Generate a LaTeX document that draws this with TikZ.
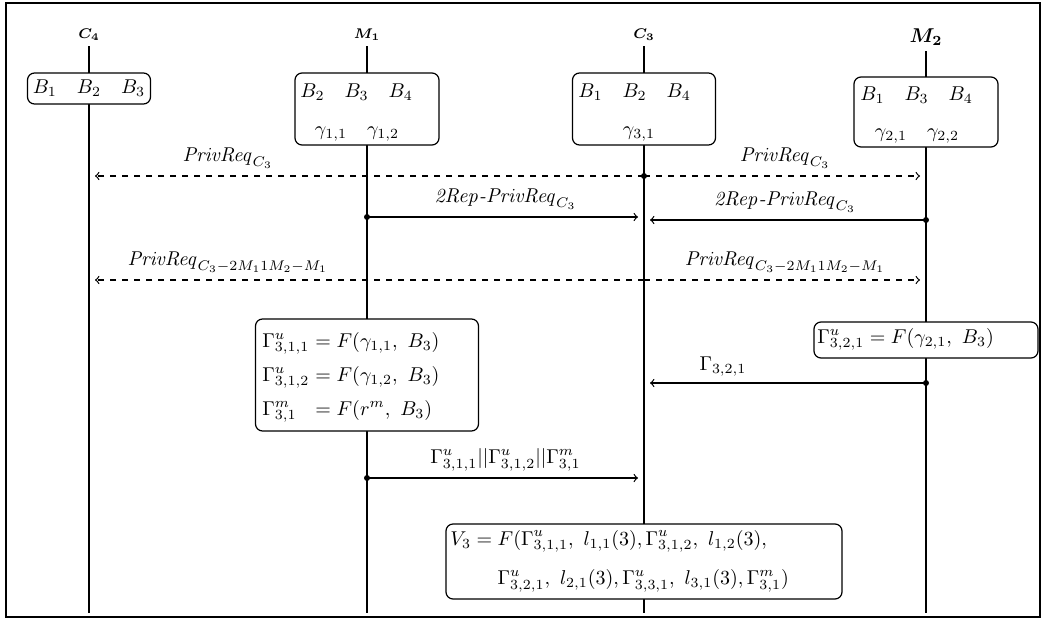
\documentclass[tikz,border=0pt]{standalone}
\usepackage{amsmath}
\usepackage{tikz}
\usetikzlibrary{positioning,calc}

\begin{document}
\begin{tikzpicture}[
    x=0.5pt, y=-0.5pt,
    >=to,
    head/.style={font=\scriptsize, inner sep=3pt, anchor=base},
    life/.style={semithick},
    box/.style={draw, semithick, rounded corners=3.5pt, fill=white, inner sep=0pt},
    txt/.style={inner sep=0pt},
    msg/.style={->, semithick, shorten >=3pt},
    dmsg/.style={msg, dashed},
    lbl/.style={above},
]
\useasboundingbox (0,0) rectangle (1045,622);
\draw[line width=1pt] (6,3) rectangle (1040,617);

% ---------- parties and lifelines ----------
\node[head] (c4) at (89,38)  {$\boldsymbol{C_4}$};
\node[head] (m1) at (367,38) {$\boldsymbol{M_1}$};
\node[head] (c3) at (644,38) {$\boldsymbol{C_3}$};
\node[head, font=\normalsize] (m2) at (926,42) {$\boldsymbol{M_2}$};

\coordinate (bot) at (0,613);
\foreach \p in {c4,m1,c3,m2}
  \draw[life] (\p.south) -- (\p.south |- bot);

% ---------- key and share boxes ----------
\node[box, minimum width=61.5pt, minimum height=15.5pt] (c4box) at (c4 |- 0,88.5) {$B_1\quad B_2\quad B_3$};

\node[box, minimum width=72pt, minimum height=36pt] (m1box) at (m1 |- 0,109) {};
\node[txt, anchor=base west] (m1keys) at (300,97) {$B_2\quad B_3\quad B_4$};
\node[txt, anchor=base] (m1shares) at (357,135) {$\gamma_{1,1}\quad\gamma_{1,2}$};

\node[box, minimum width=71.5pt, minimum height=36pt] (c3box) at (c3 |- 0,109) {};
\node[txt, anchor=base west] (c3keys) at (578,97) {$B_1\quad B_2\quad B_4$};
\node[txt, anchor=base] (c3shares) at (639,135) {$\gamma_{3,1}$};

\node[box, minimum width=72pt, minimum height=35pt] (m2box) at (m2 |- 0,112) {};
\node[txt, anchor=base west] (m2keys) at (860,100) {$B_1\quad B_3\quad B_4$};
\node[txt, anchor=base] (m2shares) at (917,137) {$\gamma_{2,1}\quad\gamma_{2,2}$};

% ---------- requests ----------
\coordinate (req) at (c3 |- 0,176);
\fill (req) circle (1.5pt);
\draw[dmsg] (req) -- node[lbl, pos=0.75] {$\mathit{PrivReq}_{C_3}$} (req -| c4);
\draw[dmsg] (req) -- node[lbl] {$\mathit{PrivReq}_{C_3}$} (req -| m2);

\coordinate (rep1) at (m1 |- 0,217);
\fill (rep1) circle (1.5pt);
\draw[msg] (rep1) -- node[lbl] {$\mathit{2Rep}\textit{-}\mathit{PrivReq}_{C_3}$} (rep1 -| c3);

\coordinate (rep2) at (m2 |- 0,220);
\fill (rep2) circle (1.5pt);
\draw[msg] (rep2) -- node[lbl] {$\mathit{2Rep}\textit{-}\mathit{PrivReq}_{C_3}$} (rep2 -| c3);

\coordinate (req2) at (c3 |- 0,280);
\draw[dmsg] (req2) -- node[lbl, pos=0.75] {$\mathit{PrivReq}_{C_3-2M_11M_2-M_1}$} (req2 -| c4);
\draw[dmsg] (req2) -- node[lbl] {$\mathit{PrivReq}_{C_3-2M_11M_2-M_1}$} (req2 -| m2);

% ---------- partial values ----------
\node[box, minimum width=111.5pt, minimum height=56pt] (m1gbox) at (m1 |- 0,375) {};
\node[txt, anchor=base west] (m1gam) at (262,347) {$\begin{array}[t]{@{}l@{}l@{}}
  \Gamma^u_{3,1,1} & {}= F(\gamma_{1,1},\ B_3)\\[5pt]
  \Gamma^u_{3,1,2} & {}= F(\gamma_{1,2},\ B_3)\\[5pt]
  \Gamma^m_{3,1}\ \ & {}= F(r^m,\ B_3)
\end{array}$};

\node[box, minimum width=112pt, minimum height=18pt] (m2gbox) at (m2 |- 0,340) {};
\node[txt, anchor=base west] (m2gam) at (817,343) {$\Gamma^u_{3,2,1} = F(\gamma_{2,1},\ B_3)$};

\coordinate (g321) at (m2 |- 0,383);
\fill (g321) circle (1.5pt);
\draw[msg] (g321) -- node[lbl, pos=0.72] {$\Gamma_{3,2,1}$} (g321 -| c3);

\coordinate (cat) at (m1 |- 0,478);
\fill (cat) circle (1.5pt);
\draw[msg] (cat) -- node[lbl] {$\Gamma^u_{3,1,1}||\Gamma^u_{3,1,2}||\Gamma^m_{3,1}$} (cat -| c3);

% ---------- reconstruction at C3 ----------
\node[box, minimum width=198pt, minimum height=37.5pt] (v3box) at (c3 |- 0,561.5) {};
\node[txt, anchor=base west] (v3eq) at (450,545) {$\begin{aligned}[t]
  V_3 = {}& F(\Gamma^u_{3,1,1},\ l_{1,1}(3), \Gamma^u_{3,1,2},\ l_{1,2}(3),\\[3.5pt]
          & \Gamma^u_{3,2,1},\ l_{2,1}(3), \Gamma^u_{3,3,1},\ l_{3,1}(3), \Gamma^m_{3,1})
\end{aligned}$};

\end{tikzpicture}
\end{document}
